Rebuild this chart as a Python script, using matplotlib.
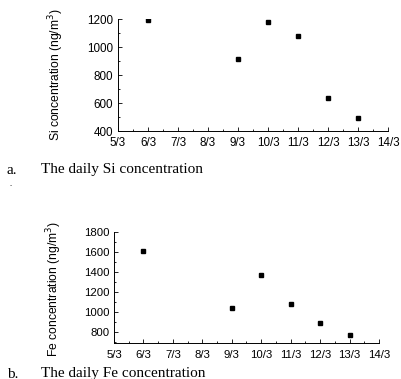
import matplotlib
matplotlib.use("Agg")
import matplotlib.pyplot as plt
from matplotlib.ticker import MultipleLocator, FixedLocator

# data (day of March)
days = [6, 9, 10, 11, 12, 13]
si_values = [1190, 912, 1182, 1080, 636, 493]
fe_values = [1610, 1043, 1378, 1080, 897, 772]
x_ticks = list(range(5, 15))
x_labels = [f"{d}/3" for d in x_ticks]

plt.rcParams["font.family"] = ["Liberation Sans", "DejaVu Sans"]

fig = plt.figure(figsize=(4.02, 3.79), dpi=100)


def style_axes(ax, fontsize):
    ax.spines["top"].set_visible(False)
    ax.spines["right"].set_visible(False)
    for s in ("left", "bottom"):
        ax.spines[s].set_linewidth(0.7)
    ax.set_xlim(5, 14)
    ax.xaxis.set_major_locator(FixedLocator(x_ticks))
    ax.set_xticklabels(x_labels)
    ax.xaxis.set_minor_locator(MultipleLocator(0.5))
    ax.tick_params(which="both", direction="in", width=0.6, labelsize=fontsize)
    ax.tick_params(which="major", length=3)
    ax.tick_params(which="minor", length=1.6)
    ax.tick_params(axis="x", pad=4.5)


# top panel: Si
ax1 = fig.add_axes([118 / 402, 1 - 131 / 379, 270 / 402, 112 / 379])
ax1.plot(days, si_values, ls="none", marker="s", ms=2.2, color="black")
style_axes(ax1, 8.4)
ax1.set_ylim(400, 1200)
ax1.yaxis.set_major_locator(MultipleLocator(200))
ax1.yaxis.set_minor_locator(MultipleLocator(100))
ax1.set_ylabel("Si concentration (ng/m$^3$)", fontsize=8.7)
ax1.yaxis.set_label_coords(-0.193, 0.5)

# bottom panel: Fe
ax2 = fig.add_axes([114 / 402, 1 - 343.3 / 379, 265 / 402, 111 / 379])
ax2.plot(days, fe_values, ls="none", marker="s", ms=2.2, color="black")
style_axes(ax2, 8.2)
ax2.set_ylim(690, 1800)
ax2.yaxis.set_major_locator(FixedLocator([800, 1000, 1200, 1400, 1600, 1800]))
ax2.yaxis.set_minor_locator(FixedLocator([700, 900, 1100, 1300, 1500, 1700]))
ax2.set_ylabel("Fe concentration (ng/m$^3$)", fontsize=8.7)
ax2.yaxis.set_label_coords(-0.189, 0.49)

# captions
serif = ["Liberation Serif", "DejaVu Serif"]
fig.text(7 / 402, 1 - 170 / 379, "a.", family=serif, fontsize=11, va="center")
fig.text(41 / 402, 1 - 170 / 379, "The daily Si concentration", family=serif,
         fontsize=11, va="center")
fig.text(9 / 402, 1 - 184 / 379, ".", family=serif, fontsize=6, va="center")
fig.text(7 / 402, 1 - 374 / 379, "b.", family=serif, fontsize=11, va="center")
fig.text(41 / 402, 1 - 374 / 379, "The daily Fe concentration", family=serif,
         fontsize=11, va="center")

fig.savefig("out.png", dpi=100)
